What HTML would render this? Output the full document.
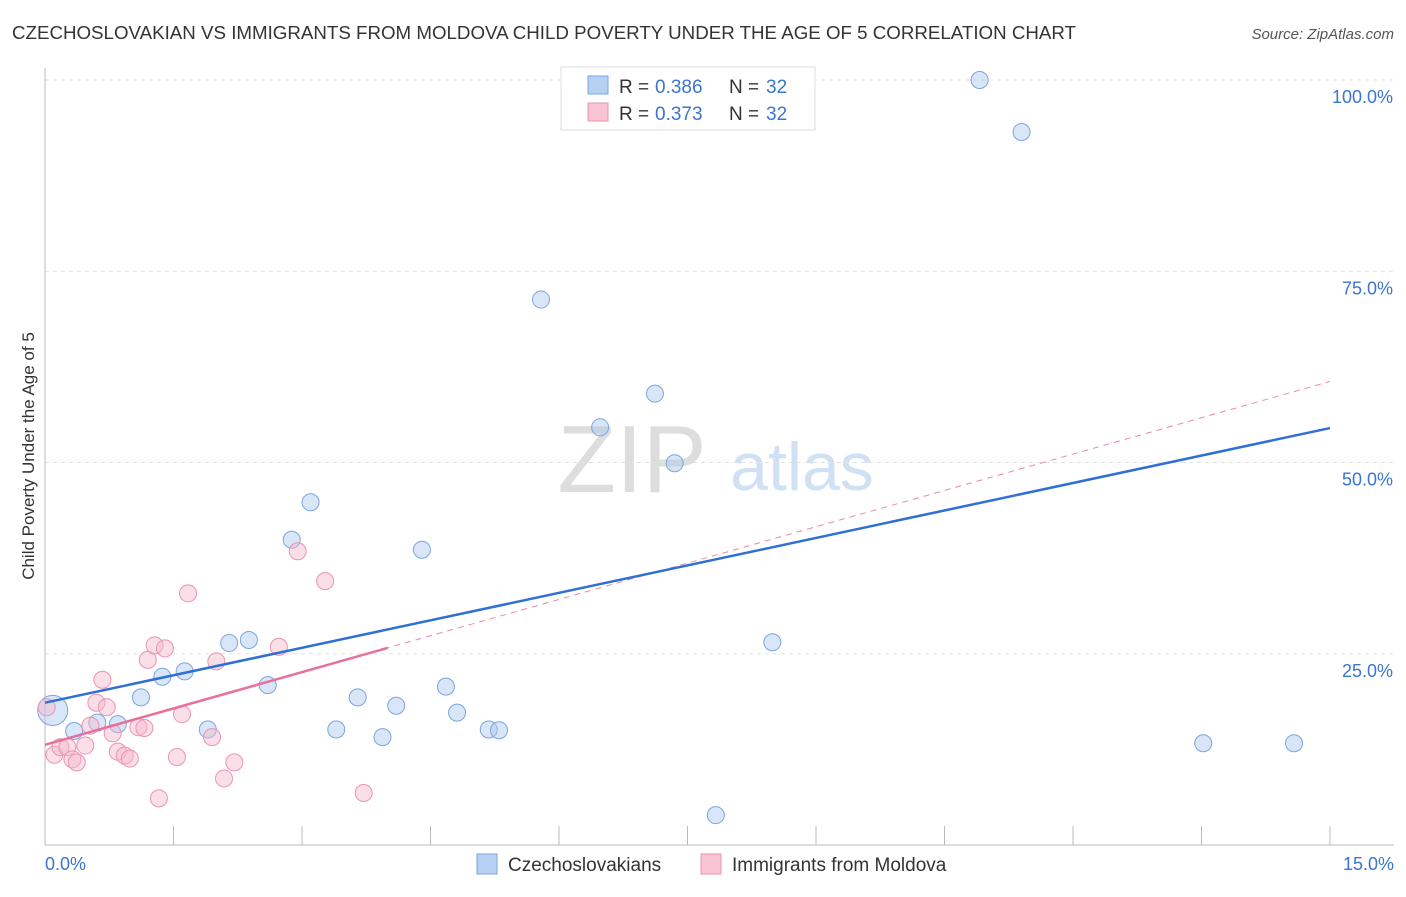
<!DOCTYPE html>
<html><head><meta charset="utf-8">
<style>
body{margin:0;background:#fff;font-family:"Liberation Sans",sans-serif;}
svg text{font-family:"Liberation Sans",sans-serif;}
</style></head>
<body>
<svg width="1406" height="892" viewBox="0 0 1406 892">
<text x="12" y="39" font-size="18" fill="#333" textLength="1064" lengthAdjust="spacingAndGlyphs">CZECHOSLOVAKIAN VS IMMIGRANTS FROM MOLDOVA CHILD POVERTY UNDER THE AGE OF 5 CORRELATION CHART</text>
<text x="1394" y="39" font-size="15" fill="#555" font-style="italic" text-anchor="end">Source: ZipAtlas.com</text>
<text x="632" y="492" font-size="96" fill="#ddd" font-family="Liberation Serif" text-anchor="middle">ZIP</text>
<text x="802" y="490" font-size="68" fill="#d0e0f5" text-anchor="middle">atlas</text>
<g id="grid"></g>
<g id="axes"></g>
<g id="marks"></g>
<text transform="translate(34,456) rotate(-90)" font-size="17" fill="#333" text-anchor="middle">Child Poverty Under the Age of 5</text>
<g>
<rect x="561" y="67" width="254" height="63" fill="#fff" stroke="#ddd"/>
<rect x="588" y="76" width="20" height="18" fill="#b5d0f3" stroke="#7aa6e0"/>
<text x="619" y="93" font-size="19" fill="#333">R =</text>
<text x="655" y="93" font-size="19" fill="#3a75d0">0.386</text>
<text x="729" y="93" font-size="19" fill="#333">N =</text>
<text x="766" y="93" font-size="19" fill="#3a75d0">32</text>
<rect x="588" y="103" width="20" height="18" fill="#f8c4d4" stroke="#eb94b0"/>
<text x="619" y="120" font-size="19" fill="#333">R =</text>
<text x="655" y="120" font-size="19" fill="#3a75d0">0.373</text>
<text x="729" y="120" font-size="19" fill="#333">N =</text>
<text x="766" y="120" font-size="19" fill="#3a75d0">32</text>
</g>
<g>
<rect x="477" y="854" width="20" height="20" fill="#b5d0f3" stroke="#7aa6e0"/>
<text x="508" y="871" font-size="19" fill="#333">Czechoslovakians</text>
<rect x="701" y="854" width="20" height="20" fill="#f8c4d4" stroke="#eb94b0"/>
<text x="732" y="871" font-size="19" fill="#333">Immigrants from Moldova</text>
</g>
</svg>
<script>
const yTicks=[25,50,75,100];
const yTickLabels=["25.0%","50.0%","75.0%","100.0%"];
const xTicks=[0,1.5,3,4.5,6,7.5,9,10.5,12,13.5,15];
const blueX=[0.09,0.34,0.61,0.85,1.12,1.37,1.63,1.90,2.15,2.38,2.60,2.88,3.10,3.40,3.65,3.94,4.10,4.40,4.68,4.81,5.18,5.30,5.79,6.48,7.12,7.35,7.83,8.49,10.91,11.40,13.52,14.58];
const blueY=[17.6,14.9,16.0,15.8,19.3,22.0,22.7,15.1,26.4,26.8,20.9,39.9,44.8,15.1,19.3,14.1,18.2,38.6,20.7,17.3,15.1,15.0,71.3,54.6,59.0,49.9,3.9,26.5,100,93.2,13.3,13.3];
const pinkX=[0.02,0.11,0.18,0.26,0.32,0.37,0.47,0.53,0.60,0.67,0.72,0.79,0.85,0.93,0.99,1.09,1.16,1.20,1.28,1.33,1.40,1.54,1.60,1.67,1.95,2.00,2.09,2.21,2.73,2.95,3.27,3.72];
const pinkY=[18.0,11.8,12.8,12.8,11.2,10.8,13.0,15.6,18.6,21.6,18.0,14.6,12.2,11.7,11.3,15.4,15.3,24.2,26.1,6.1,25.7,11.5,17.1,32.9,14.1,24.0,8.7,10.8,25.9,38.4,34.5,6.8];
const blueTrend=[18.6,54.5];
const pinkTrend=[13.1,60.6];
const pinkSolidEnd=4.0;
const NS="http://www.w3.org/2000/svg";
const X=v=>45+v*(1285/15);
const Y=v=>845-v*7.65;
function mk(tag,attrs,parent){const e=document.createElementNS(NS,tag);for(const k in attrs)e.setAttribute(k,attrs[k]);document.getElementById(parent).appendChild(e);return e;}
yTicks.forEach((t,i)=>{
 const g=mk('line',{x1:45,x2:1394,y1:Y(t),y2:Y(t),stroke:'#e2e2e2','stroke-dasharray':'4,4'},'grid');
 
 
 const l=mk('text',{x:1393,y:Y(t)+23,'font-size':18,fill:'#3a75d0','text-anchor':'end'},'axes');
 l.textContent=yTickLabels[i];
 
 
});
const ax=mk('line',{x1:45,x2:1394,y1:845,y2:845,stroke:'#bbb'},'axes');


const ay=mk('line',{x1:45,x2:45,y1:68,y2:845,stroke:'#bbb'},'axes');


xTicks.forEach(t=>{
 const k=mk('line',{x1:X(t),x2:X(t),y1:826,y2:845,stroke:'#bbb'},'axes');
 
 
});
const xl0=mk('text',{x:45,y:870,'font-size':18,fill:'#3a75d0'},'axes');xl0.textContent='0.0%';


const xl1=mk('text',{x:1394,y:870,'font-size':18,fill:'#3a75d0','text-anchor':'end'},'axes');xl1.textContent='15.0%';


blueX.forEach((x,i)=>{
 const c=mk('circle',{cx:X(x),cy:Y(blueY[i]),r:i===0?15:8.5,fill:'rgba(170,200,240,0.45)',stroke:'#7aa6e0','stroke-width':1},'marks');
 
 
});
pinkX.forEach((x,i)=>{
 const c=mk('circle',{cx:X(x),cy:Y(pinkY[i]),r:8.5,fill:'rgba(245,185,205,0.45)',stroke:'#eb94b0','stroke-width':1},'marks');
 
 
});
const pd=mk('line',{x1:X(0),y1:Y(pinkTrend[0]),x2:X(15),y2:Y(pinkTrend[1]),stroke:'#e88aa8','stroke-width':1,'stroke-dasharray':'6,5'},'marks');


const bl=mk('line',{x1:X(0),y1:Y(blueTrend[0]),x2:X(15),y2:Y(blueTrend[1]),stroke:'#2f6fd6','stroke-width':2.5},'marks');


const pe=pinkTrend[0]+(pinkTrend[1]-pinkTrend[0])*pinkSolidEnd/15;
const pl=mk('line',{x1:X(0),y1:Y(pinkTrend[0]),x2:X(pinkSolidEnd),y2:Y(pe),stroke:'#e8709a','stroke-width':2.5},'marks');


</script>
</body></html>
